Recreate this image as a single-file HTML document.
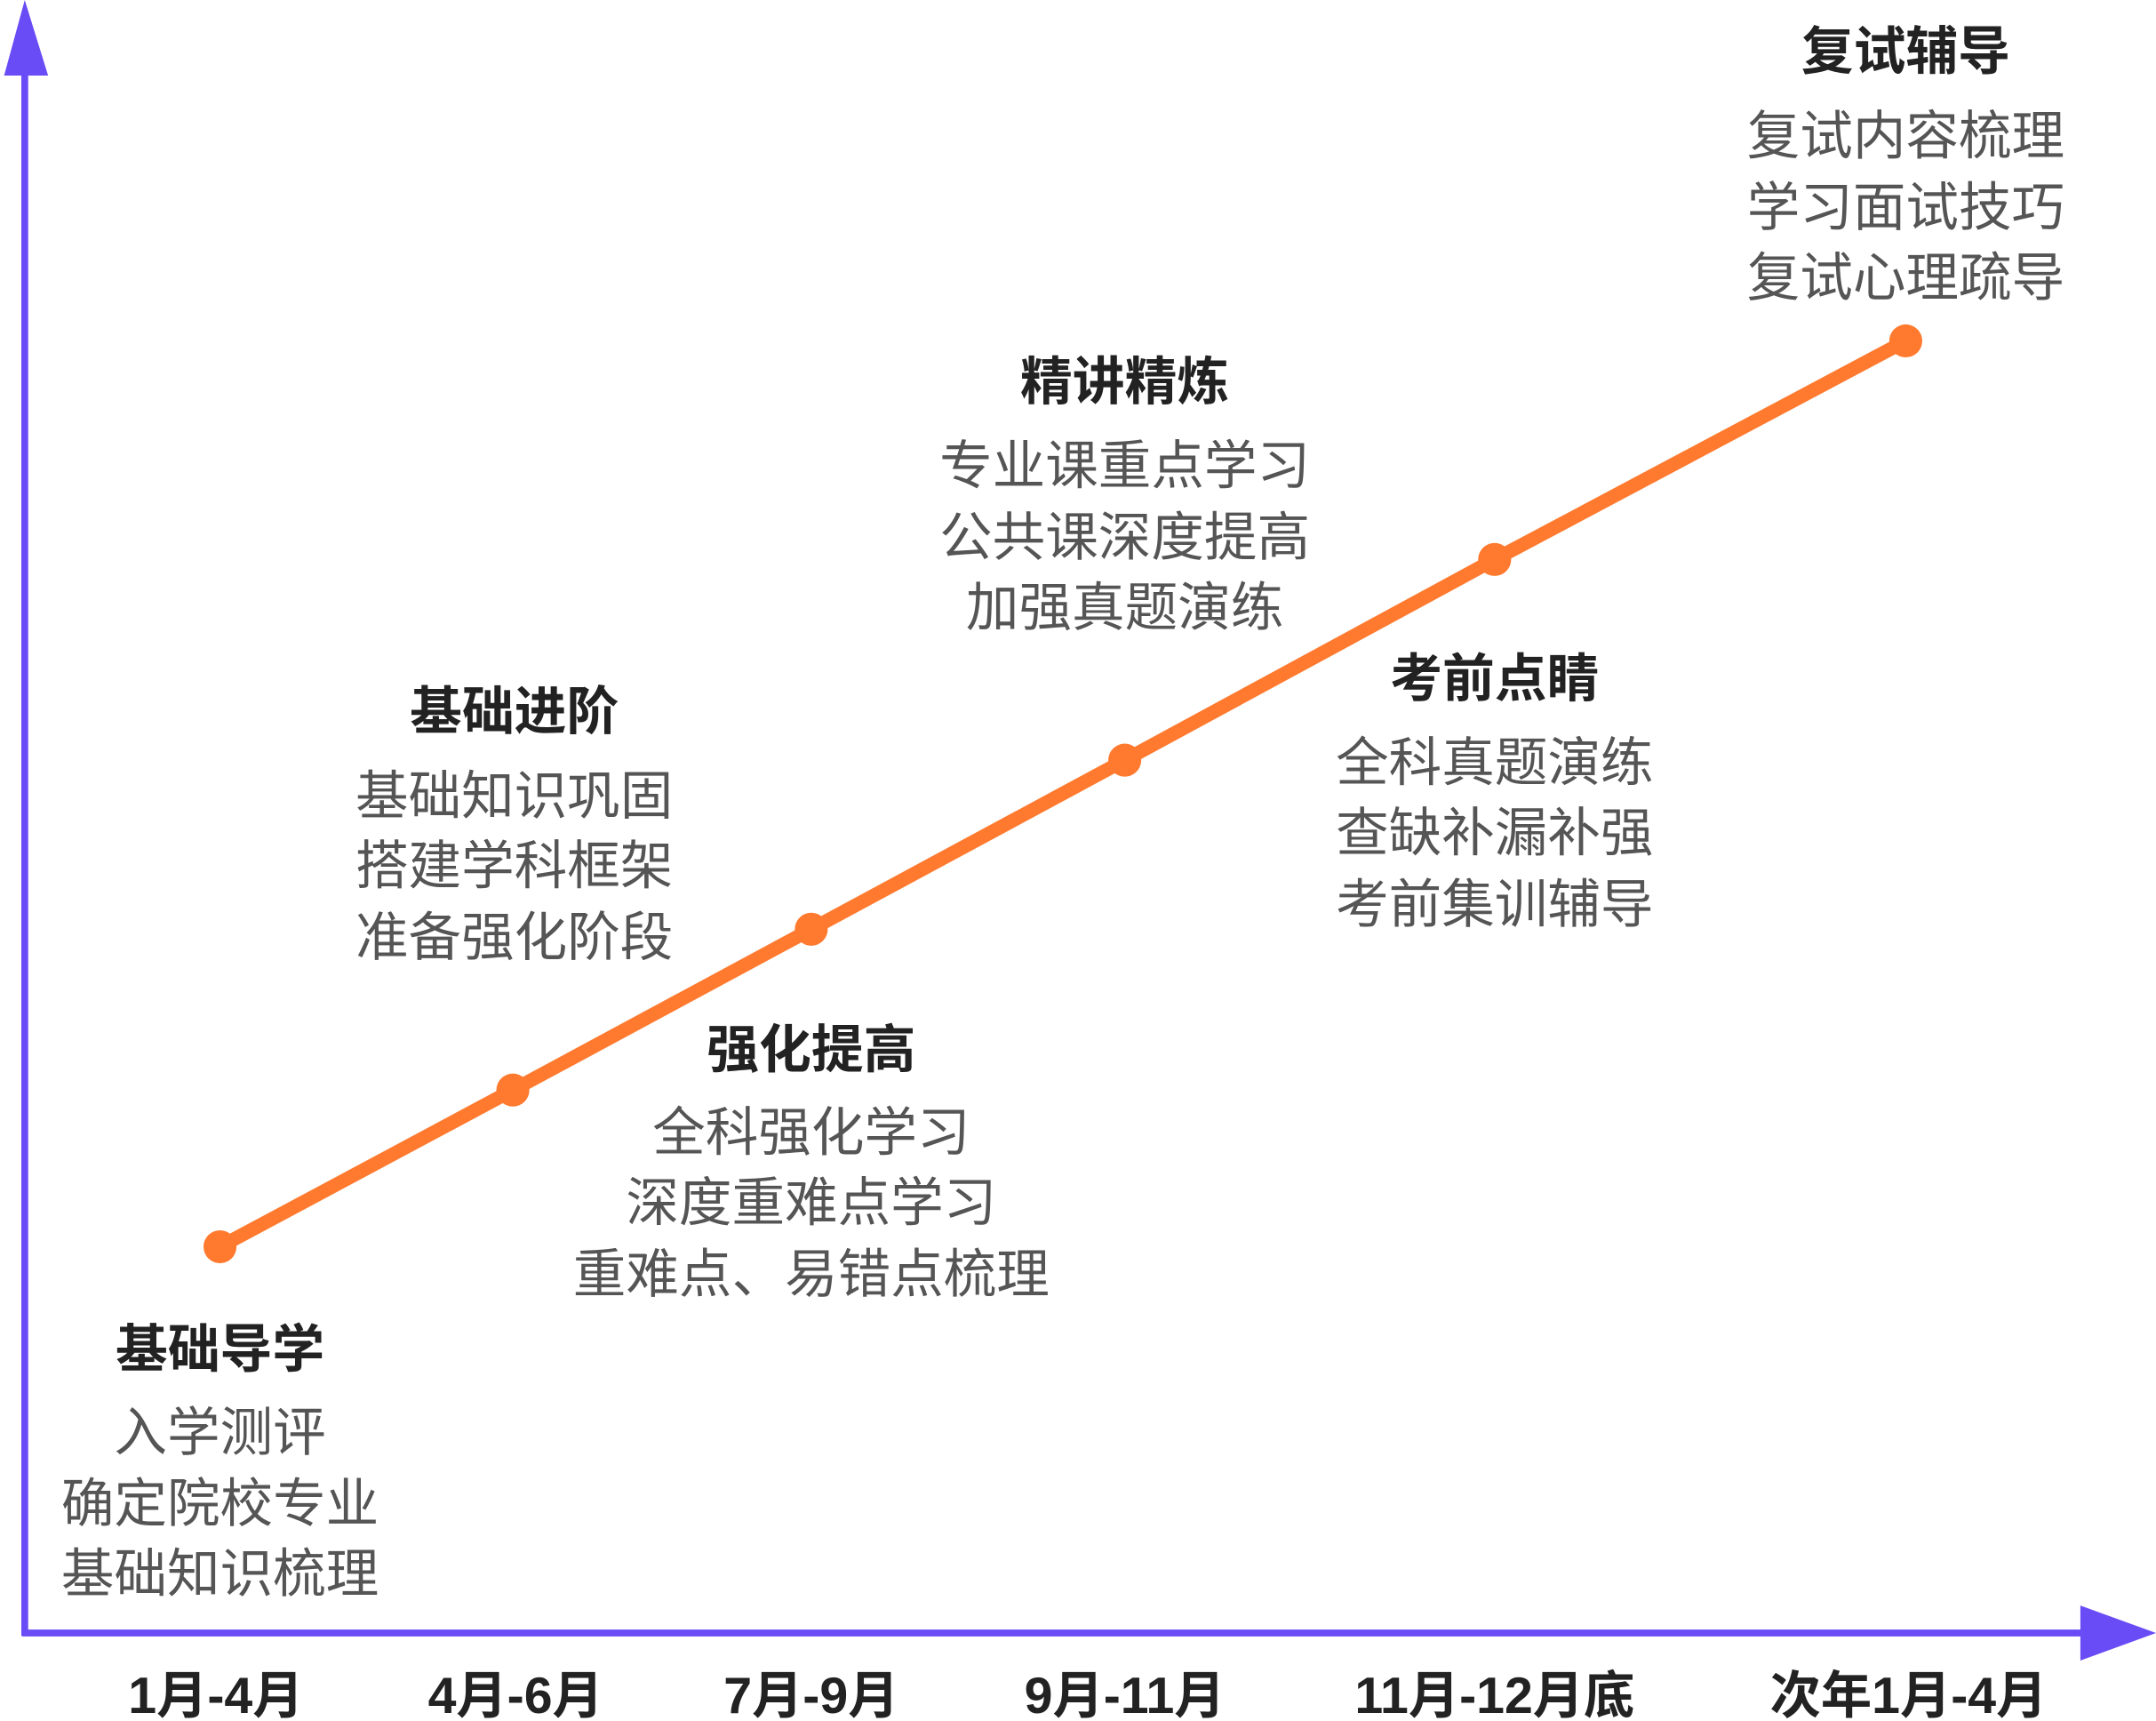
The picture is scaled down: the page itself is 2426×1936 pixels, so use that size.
<!DOCTYPE html>
<html><head><meta charset="utf-8"><style>
html,body{margin:0;padding:0;background:#fff;}
svg{display:block;}
text{font-family:"Liberation Sans","Noto Sans CJK SC",sans-serif;text-anchor:middle;dominant-baseline:central;}
.t{font-weight:bold;font-size:38px;fill:#222;}
.b{font-size:38.5px;fill:#555;}
.x{font-weight:bold;font-size:37px;fill:#222;}
</style></head><body>
<svg width="2426" height="1936" viewBox="0 0 1568 1252" preserveAspectRatio="none" xmlns="http://www.w3.org/2000/svg">
<rect width="1568" height="1252" fill="#fff"/>
<line x1="18" y1="40" x2="18" y2="1190" stroke="#6a4cf6" stroke-width="5"/>
<polygon points="18,0 3,55 35,55" fill="#6a4cf6"/>
<line x1="16" y1="1188" x2="1525" y2="1188" stroke="#6a4cf6" stroke-width="5"/>
<polygon points="1568,1188 1513,1168 1513,1208" fill="#6a4cf6"/>
<polyline points="160,907 373,793 590,676 818,553 1087,407 1386,248" fill="none" stroke="#ff7a2f" stroke-width="10" stroke-linejoin="round"/>
<g fill="#ff7a2f">
<circle cx="160" cy="907" r="12"/><circle cx="373" cy="793" r="12"/><circle cx="590" cy="676" r="12"/>
<circle cx="818" cy="553" r="12"/><circle cx="1087" cy="407" r="12"/><circle cx="1386" cy="248" r="12"/>
</g>
<g transform="translate(0,2)">
<text class="t" x="160" y="980">基础导学</text>
<text class="b" x="160" y="1040">入学测评</text>
<text class="b" x="160" y="1092">确定院校专业</text>
<text class="b" x="160" y="1143">基础知识梳理</text>

<text class="t" x="374" y="516">基础进阶</text>
<text class="b" x="374" y="577">基础知识巩固</text>
<text class="b" x="374" y="628">搭建学科框架</text>
<text class="b" x="374" y="680">准备强化阶段</text>

<text class="t" x="590" y="762">强化提高</text>
<text class="b" x="590" y="822">全科强化学习</text>
<text class="b" x="590" y="873">深度重难点学习</text>
<text class="b" x="590" y="925">重难点、易错点梳理</text>

<text class="t" x="818" y="276">精讲精炼</text>
<text class="b" x="818" y="337">专业课重点学习</text>
<text class="b" x="818" y="389">公共课深度提高</text>
<text class="b" x="818" y="440">加强真题演练</text>

<text class="t" x="1087" y="492">考前点睛</text>
<text class="b" x="1087" y="553">全科真题演练</text>
<text class="b" x="1087" y="604">查缺补漏补强</text>
<text class="b" x="1087" y="656">考前集训辅导</text>

<text class="t" x="1386" y="36">复试辅导</text>
<text class="b" x="1386" y="97">复试内容梳理</text>
<text class="b" x="1386" y="149">学习面试技巧</text>
<text class="b" x="1386" y="200">复试心理疏导</text>

<text class="x" x="157" y="1232">1月-4月</text>
<text class="x" x="375" y="1232">4月-6月</text>
<text class="x" x="590" y="1232">7月-9月</text>
<text class="x" x="818" y="1232">9月-11月</text>
<text class="x" x="1087" y="1232">11月-12月底</text>
<text class="x" x="1388" y="1232">次年1月-4月</text>
</g>
</svg>
</body></html>
